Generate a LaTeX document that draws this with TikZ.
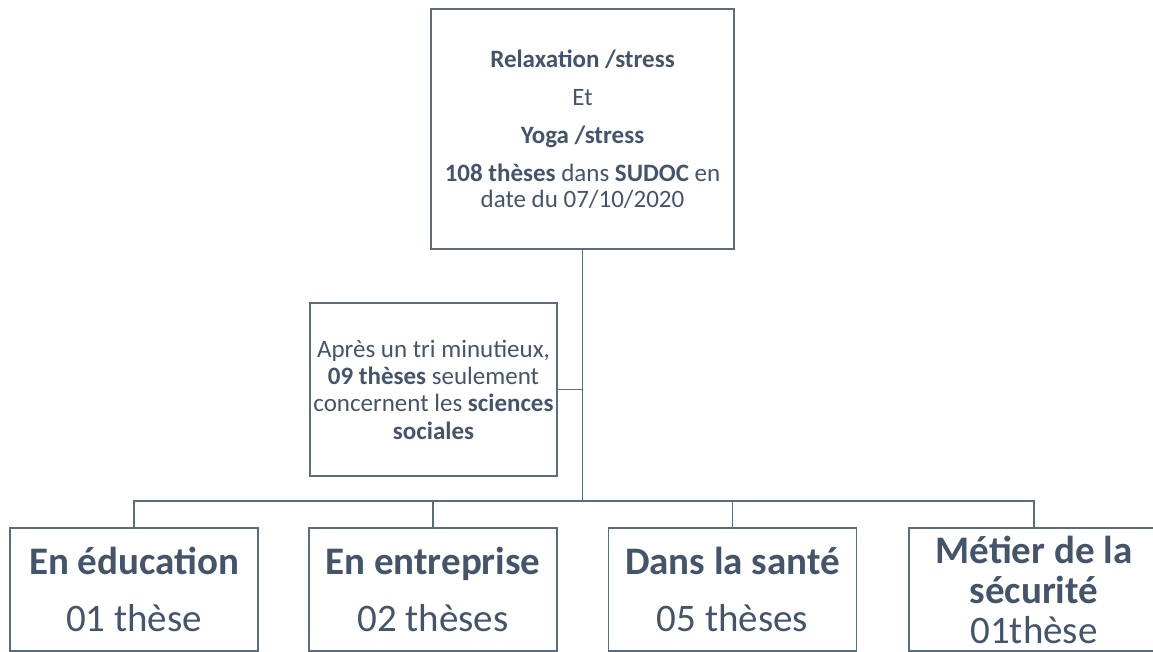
\documentclass[tikz,border=0pt]{standalone}
\usepackage{fontspec}
\setmainfont{Carlito}
\definecolor{textblue}{HTML}{44546A}
\definecolor{linegray}{HTML}{5D6B7E}
\begin{document}
\begin{tikzpicture}[x=0.75pt,y=-0.75pt,
	box/.style={draw=linegray,line width=1.1pt,text=textblue,align=center,inner sep=0pt},
	smalltext/.style={font=\fontsize{18.75}{19.5}\selectfont},
	bigtext/.style={font=\fontsize{29.25}{30}\selectfont},
	link/.style={draw=linegray,line width=1.1pt}]
	\useasboundingbox (0,0) rectangle (1153,652);
	\node[box,smalltext,minimum width=227.25pt,minimum height=180pt] (top) at (582.5,129)
		{\textbf{Relaxation /stress}\\[9pt] Et\\[9pt] \textbf{Yoga /stress}\\[9pt]
		 \textbf{108 thèses} dans \textbf{SUDOC} en\\ date du 07/10/2020};
	\node[box,smalltext,minimum width=185.25pt,minimum height=129.75pt] (tri) at (433.5,389.5)
		{Après un tri minutieux,\\[1pt] \textbf{09 thèses} seulement\\[1pt]
		 concernent les \textbf{sciences}\\[1pt] \textbf{sociales}};
	\node[box,bigtext,minimum width=186pt,minimum height=92.25pt] (edu) at (134,589.5)
		{\textbf{En éducation}\\[12.75pt] 01 thèse};
	\node[box,bigtext,minimum width=186pt,minimum height=92.25pt] (ent) at (433,589.5)
		{\textbf{En entreprise}\\[12.75pt] 02 thèses};
	\node[box,bigtext,minimum width=186pt,minimum height=92.25pt] (sante) at (732.5,589.5)
		{\textbf{Dans la santé}\\[12.75pt] 05 thèses};
	\node[box,bigtext,minimum width=187.5pt,minimum height=92.25pt] (secu) at (1034,589.5)
		{\textbf{Métier de la}\\ \textbf{sécurité}\\ 01thèse};
	\coordinate (bus) at (582.5,501);
	\draw[link] (top.south) -- (bus);
	\draw[link] (tri.east) -- (tri.east -| bus);
	\draw[link] (edu.north) |- (bus) -| (secu.north);
	\draw[link] (ent.north) -- (ent.north |- bus);
	\draw[link] (sante.north) -- (sante.north |- bus);
\end{tikzpicture}
\end{document}
